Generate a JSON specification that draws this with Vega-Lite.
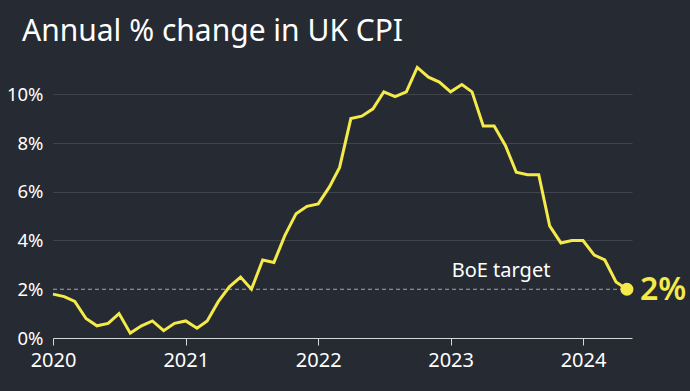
{
  "$schema": "https://vega.github.io/schema/vega-lite/v6.json",
  "width": 579,
  "height": 273,
  "autosize": {"type": "none"},
  "padding": {"left": 53, "top": 65, "right": 58, "bottom": 53},
  "background": "#262a33",
  "title": {
    "text": "Annual % change in UK CPI",
    "anchor": "start",
    "frame": "group",
    "orient": "top",
    "baseline": "alphabetic",
    "offset": 25,
    "dx": -31,
    "dy": 35,
    "font": "Noto Sans",
    "fontSize": 30,
    "fontWeight": "normal",
    "color": "#ffffff"
  },
  "config": {
    "view": {"stroke": null},
    "font": "Noto Sans"
  },
  "datasets": {
    "cpi": [
      {"date": "2020-01-01", "cpi": 1.8}, {"date": "2020-02-01", "cpi": 1.7}, {"date": "2020-03-01", "cpi": 1.5},
      {"date": "2020-04-01", "cpi": 0.8}, {"date": "2020-05-01", "cpi": 0.5}, {"date": "2020-06-01", "cpi": 0.6},
      {"date": "2020-07-01", "cpi": 1.0}, {"date": "2020-08-01", "cpi": 0.2}, {"date": "2020-09-01", "cpi": 0.5},
      {"date": "2020-10-01", "cpi": 0.7}, {"date": "2020-11-01", "cpi": 0.3}, {"date": "2020-12-01", "cpi": 0.6},
      {"date": "2021-01-01", "cpi": 0.7}, {"date": "2021-02-01", "cpi": 0.4}, {"date": "2021-03-01", "cpi": 0.7},
      {"date": "2021-04-01", "cpi": 1.5}, {"date": "2021-05-01", "cpi": 2.1}, {"date": "2021-06-01", "cpi": 2.5},
      {"date": "2021-07-01", "cpi": 2.0}, {"date": "2021-08-01", "cpi": 3.2}, {"date": "2021-09-01", "cpi": 3.1},
      {"date": "2021-10-01", "cpi": 4.2}, {"date": "2021-11-01", "cpi": 5.1}, {"date": "2021-12-01", "cpi": 5.4},
      {"date": "2022-01-01", "cpi": 5.5}, {"date": "2022-02-01", "cpi": 6.2}, {"date": "2022-03-01", "cpi": 7.0},
      {"date": "2022-04-01", "cpi": 9.0}, {"date": "2022-05-01", "cpi": 9.1}, {"date": "2022-06-01", "cpi": 9.4},
      {"date": "2022-07-01", "cpi": 10.1}, {"date": "2022-08-01", "cpi": 9.9}, {"date": "2022-09-01", "cpi": 10.1},
      {"date": "2022-10-01", "cpi": 11.1}, {"date": "2022-11-01", "cpi": 10.7}, {"date": "2022-12-01", "cpi": 10.5},
      {"date": "2023-01-01", "cpi": 10.1}, {"date": "2023-02-01", "cpi": 10.4}, {"date": "2023-03-01", "cpi": 10.1},
      {"date": "2023-04-01", "cpi": 8.7}, {"date": "2023-05-01", "cpi": 8.7}, {"date": "2023-06-01", "cpi": 7.9},
      {"date": "2023-07-01", "cpi": 6.8}, {"date": "2023-08-01", "cpi": 6.7}, {"date": "2023-09-01", "cpi": 6.7},
      {"date": "2023-10-01", "cpi": 4.6}, {"date": "2023-11-01", "cpi": 3.9}, {"date": "2023-12-01", "cpi": 4.0},
      {"date": "2024-01-01", "cpi": 4.0}, {"date": "2024-02-01", "cpi": 3.4}, {"date": "2024-03-01", "cpi": 3.2},
      {"date": "2024-04-01", "cpi": 2.3}, {"date": "2024-05-01", "cpi": 2.0}
    ],
    "target": [
      {"start": "2020-01-01", "end": "2024-05-01", "value": 2, "label": "BoE target", "labelDate": "2023-05-20"}
    ],
    "last": [
      {"date": "2024-05-01", "cpi": 2.0, "label": "2%"}
    ]
  },
  "layer": [
    {
      "data": {"name": "target"},
      "mark": {"type": "rule", "color": "#a4a7ad", "strokeWidth": 1.2, "strokeDash": [4, 3]},
      "encoding": {
        "x": {
          "field": "start", "type": "temporal",
          "scale": {"type": "utc", "domain": [{"year": 2020, "month": 1, "date": 1, "utc": true}, {"year": 2024, "month": 5, "date": 15, "utc": true}]},
          "axis": {
            "values": [
              {"year": 2020, "month": 1, "date": 1, "utc": true},
              {"year": 2021, "month": 1, "date": 1, "utc": true},
              {"year": 2022, "month": 1, "date": 1, "utc": true},
              {"year": 2023, "month": 1, "date": 1, "utc": true},
              {"year": 2024, "month": 1, "date": 1, "utc": true}
            ],
            "format": "%Y",
            "formatType": "utc",
            "title": null,
            "grid": false,
            "domainColor": "#d6d7da",
            "domainWidth": 1,
            "tickColor": "#d6d7da",
            "tickSize": 7,
            "labelColor": "#ffffff",
            "labelFontSize": 20,
            "labelFont": "Noto Sans",
            "labelPadding": 5,
            "labelFlush": false
          }
        },
        "x2": {"field": "end"},
        "y": {
          "field": "value", "type": "quantitative",
          "scale": {"domain": [0, 11.2], "nice": false},
          "axis": {
            "values": [0, 2, 4, 6, 8, 10],
            "labelExpr": "datum.value + '%'",
            "title": null,
            "domain": false,
            "ticks": false,
            "grid": true,
            "gridColor": "#40444d",
            "gridWidth": 1,
            "gridOpacity": {"condition": {"test": "datum.value === 0 || datum.value === 2", "value": 0}, "value": 1},
            "labelColor": "#ffffff",
            "labelFontSize": 18.5,
            "labelFont": "Noto Sans",
            "labelPadding": 10
          }
        }
      }
    },
    {
      "data": {"name": "target"},
      "mark": {"type": "text", "align": "center", "baseline": "alphabetic", "dy": -12, "fontSize": 20, "color": "#ffffff", "font": "Noto Sans"},
      "encoding": {
        "x": {"field": "labelDate", "type": "temporal"},
        "y": {"field": "value", "type": "quantitative"},
        "text": {"field": "label"}
      }
    },
    {
      "data": {"name": "cpi"},
      "mark": {"type": "line", "color": "#f4ea49", "strokeWidth": 3, "strokeJoin": "miter"},
      "encoding": {
        "x": {"field": "date", "type": "temporal"},
        "y": {"field": "cpi", "type": "quantitative"}
      }
    },
    {
      "data": {"name": "last"},
      "mark": {"type": "circle", "color": "#f4ea49", "opacity": 1, "size": 170},
      "encoding": {
        "x": {"field": "date", "type": "temporal"},
        "y": {"field": "cpi", "type": "quantitative"}
      }
    },
    {
      "data": {"name": "last"},
      "mark": {"type": "text", "align": "left", "baseline": "middle", "dx": 13, "dy": 1, "fontSize": 32, "fontWeight": 600, "color": "#f4ea49", "font": "Noto Sans"},
      "encoding": {
        "x": {"field": "date", "type": "temporal"},
        "y": {"field": "cpi", "type": "quantitative"},
        "text": {"field": "label"}
      }
    }
  ]
}
